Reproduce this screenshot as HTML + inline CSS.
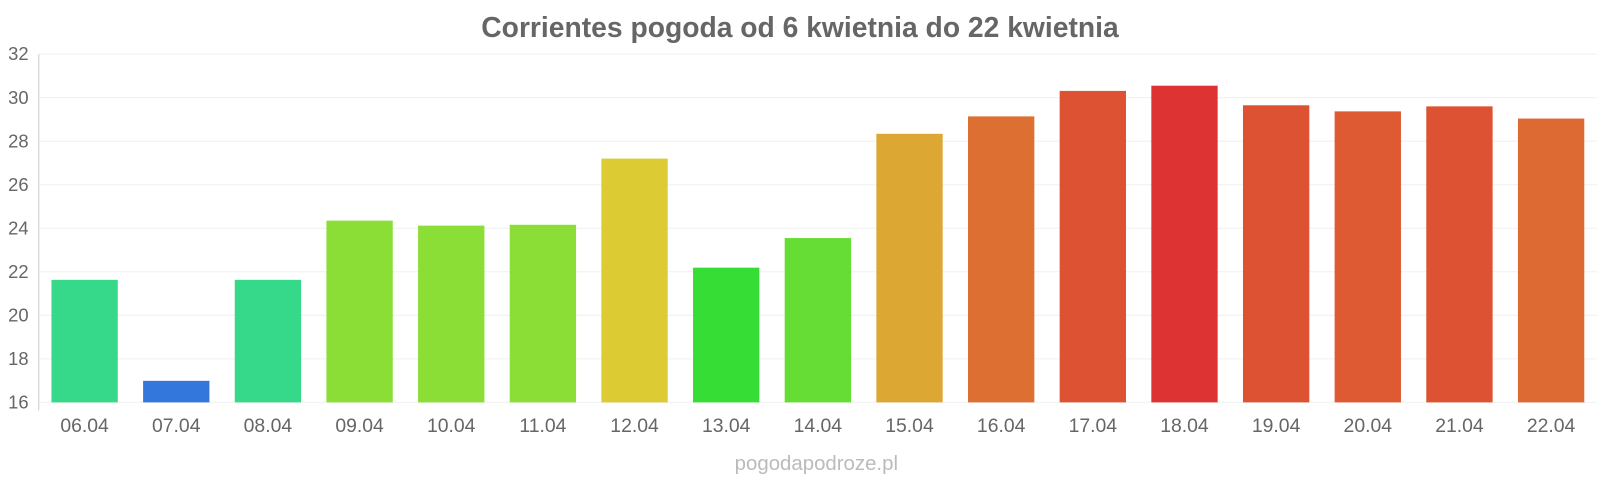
<!DOCTYPE html>
<html><head><meta charset="utf-8"><style>
body{margin:0;background:#fff;font-family:"Liberation Sans",sans-serif;}
svg{display:block}
</style></head><body>
<svg id="chart" width="1600" height="480" viewBox="0 0 1568 470" preserveAspectRatio="none">
<text x="784" y="36" text-anchor="middle" font-size="27.7" font-weight="bold" fill="#666">Corrientes pogoda od 6 kwietnia do 22 kwietnia</text>
<g id="grid"></g><g id="bars"></g><g id="xlabels"></g>
<line x1="38" y1="53" x2="38" y2="402" stroke="#ccc"/>
<text x="800" y="460" text-anchor="middle" font-size="20" fill="#bbb">pogodapodroze.pl</text>
</svg>
<script>
const categories=["06.04","07.04","08.04","09.04","10.04","11.04","12.04","13.04","14.04","15.04","16.04","17.04","18.04","19.04","20.04","21.04","22.04"];
const temps=[21.63,16.99,21.63,24.35,24.12,24.16,27.2,22.19,23.55,28.34,29.14,30.31,30.55,29.65,29.37,29.6,29.04];
const colors=["#36d98a","#3377dd","#36d98a","#8ade35","#8ade35","#8ade35","#dccb33","#35dd35","#66dd35","#dca733","#dd6f33","#dd5233","#dd3333","#dd5233","#dd5a33","#dd5233","#dd6a33"];
const yTicks=[16,18,20,22,24,26,28,30,32];
const NS="http://www.w3.org/2000/svg";
const y=v=>394-(v-16)*(394-53)/16;
const left=38,right=1565,slot=(right-left)/categories.length;
const x=i=>left+slot*(i+0.5);
const grid=document.getElementById('grid');
yTicks.forEach(t=>{
 const l=document.createElementNS(NS,'line');
 l.setAttribute('x1',38);l.setAttribute('x2',right);l.setAttribute('y1',y(t));l.setAttribute('y2',y(t));l.setAttribute('stroke','#f0f0f0');
 
 
 grid.appendChild(l);
 const tx=document.createElementNS(NS,'text');
 tx.setAttribute('x',28);tx.setAttribute('y',y(t)+6);tx.setAttribute('text-anchor','end');tx.setAttribute('font-size','18');tx.setAttribute('fill','#666');
 tx.textContent=t;
 
 
 grid.appendChild(tx);
});
const bars=document.getElementById('bars'),xl=document.getElementById('xlabels');
categories.forEach((c,i)=>{
 const r=document.createElementNS(NS,'rect');
 const bw=65;
 r.setAttribute('x',x(i)-bw/2);r.setAttribute('width',bw);r.setAttribute('y',y(temps[i]));r.setAttribute('height',y(16)-y(temps[i]));r.setAttribute('fill',colors[i]);
 
 
 bars.appendChild(r);
 const t=document.createElementNS(NS,'text');
 t.setAttribute('x',x(i));t.setAttribute('y',423);t.setAttribute('text-anchor','middle');t.setAttribute('font-size','19');t.setAttribute('fill','#666');
 t.textContent=c;
 
 
 xl.appendChild(t);
});
</script>
</body></html>
